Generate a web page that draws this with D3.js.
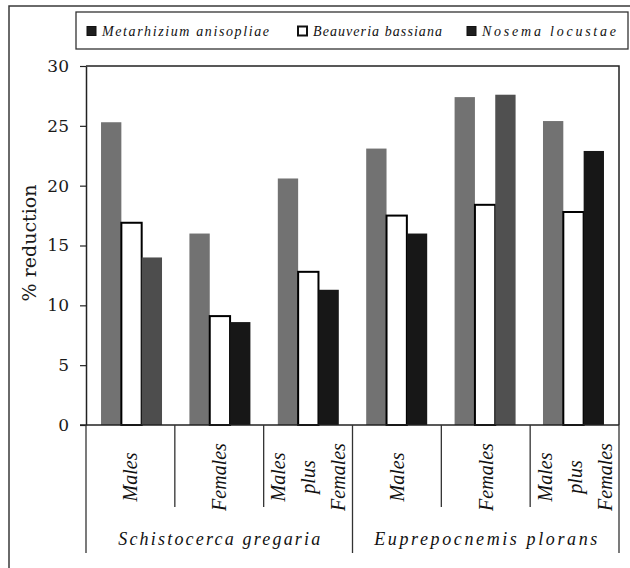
<!DOCTYPE html>
<html><head><meta charset="utf-8">
<script src="https://cdn.jsdelivr.net/npm/d3@7"></script>
<style>body{margin:0;background:#fff}</style>
</head><body><svg id="c" width="630" height="568"></svg>
<script>
// ---- data ----
const species = ["Schistocerca gregaria", "Euprepocnemis plorans"];
const categories = ["Males", "Females", "Males plus Females", "Males", "Females", "Males plus Females"];
const categorySpecies = [0, 0, 0, 1, 1, 1];
const seriesNames = ["Metarhizium anisopliae", "Beauveria bassiana", "Nosema locustae"];
const metarhizium = [25.3, 16.0, 20.6, 23.1, 27.4, 25.4];
const beauveria = [16.9, 9.1, 12.8, 17.5, 18.4, 17.8];
const nosema = [14.0, 8.6, 11.3, 16.0, 27.6, 22.9];
const yTicks = [0, 5, 10, 15, 20, 25, 30];
const yTitle = "% reduction";

// ---- styles ----
const fills = {"Metarhizium anisopliae": "#727272", "Beauveria bassiana": "#ffffff", "Nosema locustae": "#171717"};
const legendFills = {"Metarhizium anisopliae": "#1e1e1e", "Beauveria bassiana": "#ffffff", "Nosema locustae": "#1e1e1e"};
const scanShade = {"0|Nosema locustae": "#4d4d4d", "4|Nosema locustae": "#505050"};

const seriesValues = [metarhizium, beauveria, nosema];
const rows = [];
categories.forEach((c, i) => seriesNames.forEach((s, k) => rows.push({i, s, v: seriesValues[k][i]})));

const svg = d3.select("#c");
const L = 86, R = 619, T = 66, B = 425;
const y = d3.scaleLinear().domain([0, 30]).range([B, T]);
const edges = d3.scaleLinear().domain([0, categories.length]).range([L, R]);
const x0 = d3.scaleBand().domain(d3.range(categories.length)).range([L, R]).paddingInner(0.31).paddingOuter(0.17);
const x1 = d3.scaleBand().domain(seriesNames).range([0, x0.bandwidth()]);

// outer frame
svg.append("path").attr("d", "M9,568 V6 H630").attr("fill", "none").attr("stroke", "#3a3a3a").attr("stroke-width", 1.5);

// legend
const lg = svg.append("g");
lg.append("rect").attr("x", 76).attr("y", 12).attr("width", 552).attr("height", 37)
  .attr("fill", "#fff").attr("stroke", "#333").attr("stroke-width", 1.3);
const legX = [87, 298, 467];
const legW = [167, 129, 134];
seriesNames.forEach((s, k) => {
  lg.append("rect").attr("x", legX[k]).attr("y", 26.5).attr("width", 9).attr("height", 9)
    .attr("fill", legendFills[s]).attr("stroke", "#111").attr("stroke-width", s === "Beauveria bassiana" ? 2 : 1);
  lg.append("text").attr("x", legX[k] + 15).attr("y", 35.5).text(s)
    .attr("font-family", "Liberation Serif").attr("font-style", "italic").attr("font-size", 14)
    .attr("textLength", legW[k]).attr("lengthAdjust", "spacing").attr("fill", "#111");
});

// plot frame (top & right)
svg.append("path").attr("d", `M${L},${T} H${R} V${B}`).attr("fill", "none").attr("stroke", "#222").attr("stroke-width", 1.5);

// bars
svg.append("g").selectAll("rect").data(rows).join("rect")
  .attr("x", d => x0(d.i) + x1(d.s))
  .attr("y", d => y(d.v))
  .attr("width", x1.bandwidth())
  .attr("height", d => y(0) - y(d.v))
  .attr("fill", d => scanShade[d.i + "|" + d.s] || fills[d.s])
  .attr("stroke", d => d.s === "Beauveria bassiana" ? "#000" : "none")
  .attr("stroke-width", 2);

// y axis
const ya = svg.append("g").attr("transform", `translate(${L},0)`)
  .call(d3.axisLeft(y).tickValues(yTicks).tickSize(6).tickSizeOuter(0).tickPadding(11));
ya.select(".domain").attr("stroke", "#222").attr("stroke-width", 1.5);
ya.selectAll(".tick line").attr("stroke", "#222").attr("stroke-width", 1.2);
ya.selectAll(".tick text").attr("font-family", "DejaVu Serif").attr("font-size", 17).attr("fill", "#1a1a1a");

// x axis baseline
svg.append("line").attr("x1", L - 6).attr("x2", R).attr("y1", B).attr("y2", B).attr("stroke", "#222").attr("stroke-width", 1.5);

// category dividers
d3.range(categories.length + 1).forEach(j => {
  const major = j % 3 === 0;
  svg.append("line").attr("x1", edges(j)).attr("x2", edges(j)).attr("y1", B).attr("y2", major ? 553 : 507)
    .attr("stroke", "#333").attr("stroke-width", 1.3);
});

// category labels
categories.forEach((c, i) => {
  const lines = c.split(" ");
  const cx = (edges(i) + edges(i + 1)) / 2;
  lines.forEach((t, j) => {
    const lx = cx + (j - (lines.length - 1) / 2) * 30;
    svg.append("text").attr("transform", `translate(${lx},477) rotate(-90)`)
      .attr("text-anchor", "middle").attr("dy", "0.35em").text(t)
      .attr("font-family", "Liberation Serif").attr("font-style", "italic").attr("font-size", 20).attr("fill", "#111");
  });
});

// species labels
const spW = [202, 223];
species.forEach((s, k) => {
  const idx = categorySpecies.map((v, i) => v === k ? i : -1).filter(i => i >= 0);
  const cx = (edges(idx[0]) + edges(idx[idx.length - 1] + 1)) / 2;
  svg.append("text").attr("x", cx).attr("y", 545).attr("text-anchor", "middle").text(s)
    .attr("font-family", "Liberation Serif").attr("font-style", "italic").attr("font-size", 18)
    .attr("textLength", spW[k]).attr("lengthAdjust", "spacing").attr("fill", "#111");
});

// y title
svg.append("text").attr("transform", "translate(29,243) rotate(-90)").attr("text-anchor", "middle")
  .attr("dy", "0.35em").text(yTitle)
  .attr("font-family", "DejaVu Serif").attr("font-size", 19).attr("fill", "#1a1a1a");
</script></body></html>
